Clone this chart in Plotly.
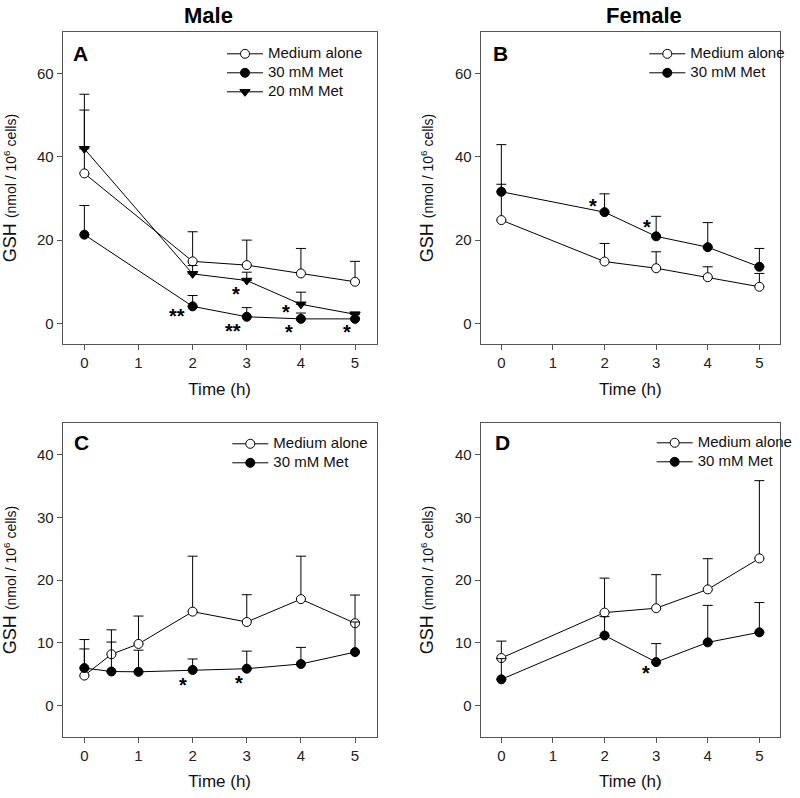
import plotly.graph_objects as go

# ---------------- data ----------------
# Panel A (Male)
A_time = [0, 2, 3, 4, 5]
A_medium = [36.0, 14.9, 14.0, 12.0, 10.0]
A_medium_err = [15.2, 7.1, 6.0, 6.0, 4.9]
A_met30 = [21.3, 4.1, 1.6, 1.1, 1.1]
A_met30_err = [7.0, 2.6, 2.2, 1.4, 1.4]
A_met20 = [41.9, 11.9, 10.3, 4.6, 2.2]
A_met20_err = [13.1, 2.0, 2.0, 2.9, 0.5]

# Panel B (Female)
B_time = [0, 2, 3, 4, 5]
B_medium = [24.8, 14.85, 13.25, 11.1, 8.8]
B_medium_err = [8.6, 4.35, 3.95, 2.5, 3.2]
B_met30 = [31.6, 26.7, 20.9, 18.3, 13.6]
B_met30_err = [11.3, 4.4, 4.8, 5.9, 4.4]

# Panel C (Male)
C_time = [0, 0.5, 1, 2, 3, 4, 5]
C_medium = [4.75, 8.15, 9.8, 14.95, 13.3, 16.95, 13.1]
C_medium_err = [5.75, 3.9, 4.45, 8.85, 4.35, 6.85, 4.5]
C_met30 = [5.95, 5.4, 5.35, 5.65, 5.85, 6.6, 8.5]
C_met30_err = [3.05, 4.7, 3.45, 1.75, 2.8, 2.65, 4.8]

# Panel D (Female)
D_time = [0, 2, 3, 4, 5]
D_medium = [7.55, 14.8, 15.5, 18.5, 23.45]
D_medium_err = [2.7, 5.5, 5.35, 4.9, 12.4]
D_met30 = [4.15, 11.15, 6.9, 10.05, 11.65]
D_met30_err = [3.3, 3.0, 2.95, 5.9, 4.75]

# significance marks
star_panel = ["A", "A", "A", "A", "A", "A", "B", "B", "C", "C", "D"]
star_text = ["**", "*", "**", "*", "*", "*", "*", "*", "*", "*", "*"]
star_x = [1.71, 2.80, 2.75, 3.73, 3.78, 4.85, 1.78, 2.82, 1.83, 2.85, 2.80]
star_y = [2.95, 8.3, -0.6, 3.9, -0.9, -0.9, 29.5, 24.3, 4.0, 4.4, 5.96]

column_titles = ["Male", "Female"]
panel_letters = ["A", "B", "C", "D"]
x_ticks = [0, 1, 2, 3, 4, 5]

# ---------------- figure ----------------
FONT = "Liberation Sans, Arial, sans-serif"
W, H = 800, 798

def px_x(p):
    return p / W

def px_y(p):
    return 1 - p / H

dom = {
    "A": ([px_x(62.7), px_x(376.7)], [px_y(344.3), px_y(31.7)]),
    "B": ([px_x(480.7), px_x(780.0)], [px_y(344.3), px_y(31.7)]),
    "C": ([px_x(62.7), px_x(376.7)], [px_y(736.7), px_y(423.3)]),
    "D": ([px_x(480.7), px_x(780.0)], [px_y(736.7), px_y(423.3)]),
}
axis_ids = {"A": ("x", "y", ""), "B": ("x2", "y2", "2"), "C": ("x3", "y3", "3"), "D": ("x4", "y4", "4")}
legend_ids = {"A": "legend", "B": "legend2", "C": "legend3", "D": "legend4"}

fig = go.Figure()

open_marker = dict(symbol="circle", size=9, color="white", line=dict(color="black", width=1))
filled_marker = dict(symbol="circle", size=9, color="black", line=dict(color="black", width=1))
tri_marker = dict(symbol="triangle-down", size=9, color="black", line=dict(color="black", width=1))

LEG_TEXT = "<span style='font-size:15px'>%s</span>"

def add_series(panel, t, y, err, name, marker):
    xa, ya, _ = axis_ids[panel]
    fig.add_trace(go.Scatter(
        x=t, y=y, name=LEG_TEXT % name, mode="lines+markers",
        xaxis=xa, yaxis=ya, legend=legend_ids[panel],
        line=dict(color="black", width=1),
        marker=marker,
        error_y=dict(type="data", array=err, arrayminus=[0] * len(err), symmetric=False,
                     color="black", thickness=1, width=5),
    ))

add_series("A", A_time, A_medium, A_medium_err, "Medium alone", open_marker)
add_series("A", A_time, A_met30, A_met30_err, "30 mM Met", filled_marker)
add_series("A", A_time, A_met20, A_met20_err, "20 mM Met", tri_marker)
add_series("B", B_time, B_medium, B_medium_err, "Medium alone", open_marker)
add_series("B", B_time, B_met30, B_met30_err, "30 mM Met", filled_marker)
add_series("C", C_time, C_medium, C_medium_err, "Medium alone", open_marker)
add_series("C", C_time, C_met30, C_met30_err, "30 mM Met", filled_marker)
add_series("D", D_time, D_medium, D_medium_err, "Medium alone", open_marker)
add_series("D", D_time, D_met30, D_met30_err, "30 mM Met", filled_marker)

ytitle = "GSH <span style='font-size:14px'>(nmol / 10<sup>6</sup> cells)</span>"
yranges = {"A": [-5, 70], "B": [-5, 70], "C": [-5, 45], "D": [-5, 45]}
ydticks = {"A": 20, "B": 20, "C": 10, "D": 10}

layout = {}
for p in ["A", "B", "C", "D"]:
    xa, ya, suf = axis_ids[p]
    xd, yd = dom[p]
    common = dict(showline=True, mirror=True, linecolor="#555555", linewidth=1,
                  ticks="outside", ticklen=5, tickcolor="#555555", tickwidth=1,
                  showgrid=False, zeroline=False, automargin=False,
                  tickfont=dict(family=FONT, size=15, color="#222222"))
    layout["xaxis" + suf] = dict(common, domain=xd, anchor=ya, range=[-0.4, 5.4],
                                 tickvals=x_ticks,
                                 title=dict(text="Time (h)", font=dict(family=FONT, size=17, color="#111111"),
                                            standoff=12))
    layout["yaxis" + suf] = dict(common, domain=yd, anchor=xa, range=yranges[p],
                                 dtick=ydticks[p], tick0=0,
                                 title=dict(text=ytitle, font=dict(family=FONT, size=18, color="#111111"),
                                            standoff=16))

legend_pos = {"A": (227, 53.3), "B": (649.3, 53.3), "C": (232.3, 443.3), "D": (656.7, 442.3)}
for p, (lx, ly) in legend_pos.items():
    layout[legend_ids[p]] = dict(
        x=px_x(lx - 5), y=px_y(ly - 14), xref="paper", yref="paper",
        xanchor="left", yanchor="top", bgcolor="rgba(0,0,0,0)", borderwidth=0,
        font=dict(family=FONT, size=12, color="#111111"), itemwidth=36,
        tracegroupgap=0,
    )

annotations = []
# column titles
for txt, cx in zip(column_titles, [208, 644]):
    annotations.append(dict(text="<b>%s</b>" % txt, x=px_x(cx), y=px_y(15), xref="paper", yref="paper",
                            showarrow=False, xanchor="center", yanchor="middle",
                            font=dict(family=FONT, size=22, color="black")))
# panel letters
letter_pos = {"A": (0.026, 0.930), "B": (0.036, 0.930), "C": (0.029, 0.939), "D": (0.040, 0.939)}
for p in panel_letters:
    xa, ya, _ = axis_ids[p]
    lx, ly = letter_pos[p]
    annotations.append(dict(text="<b>%s</b>" % p, x=lx, y=ly, xref=xa + " domain", yref=ya + " domain",
                            showarrow=False, xanchor="left", yanchor="middle",
                            font=dict(family=FONT, size=21, color="black")))
# significance stars
for p, s, sx, sy in zip(star_panel, star_text, star_x, star_y):
    xa, ya, _ = axis_ids[p]
    annotations.append(dict(text="<b>%s</b>" % s, x=sx, y=sy, xref=xa, yref=ya, showarrow=False,
                            xanchor="center", yanchor="middle", yshift=-5,
                            font=dict(family=FONT, size=20, color="black")))

fig.update_layout(
    width=W, height=H, margin=dict(l=0, r=0, t=0, b=0, autoexpand=False),
    paper_bgcolor="white", plot_bgcolor="white",
    showlegend=True, annotations=annotations,
    font=dict(family=FONT, color="#111111"),
    **layout,
)

fig.write_html("out.html", config={"displayModeBar": False},
               post_script="document.body.style.margin='0';")
